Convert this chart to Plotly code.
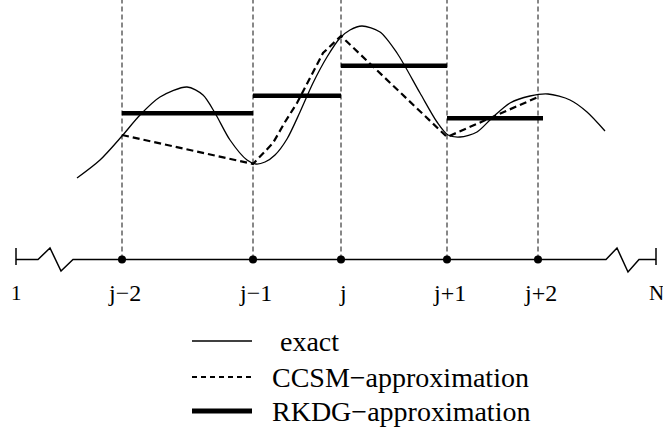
import plotly.graph_objects as go

# Grid nodes (x positions) and their labels
node_x = [1.22, 2.53, 3.41, 4.47, 5.38]
node_labels = ["j\u22122", "j\u22121", "j", "j+1", "j+2"]

# Exact solution, sampled along the domain
exact_x = [0.77, 1.00, 1.22, 1.40, 1.60, 1.87, 2.03, 2.15, 2.30, 2.47, 2.56,
           2.65, 2.75, 2.87, 3.00, 3.13, 3.27, 3.40, 3.50, 3.62, 3.80, 3.97,
           4.20, 4.37, 4.48, 4.60, 4.77, 4.92, 5.10, 5.30, 5.48, 5.70, 5.87, 6.05]
exact_u = [0.815, 0.995, 1.235, 1.445, 1.625, 1.725, 1.645, 1.465, 1.195, 0.995, 0.955,
           0.975, 1.045, 1.205, 1.475, 1.765, 2.025, 2.215, 2.295, 2.335, 2.275, 2.065,
           1.665, 1.375, 1.245, 1.225, 1.275, 1.415, 1.565, 1.635, 1.655, 1.595, 1.475, 1.285]

# CCSM point values (nodal) with the shape between j-1 and j
ccsm_x = [1.22, 2.53, 2.73, 2.85, 2.97, 3.10, 3.23, 3.41, 4.47, 5.38]
ccsm_u = [1.245, 0.955, 1.165, 1.375, 1.565, 1.815, 2.065, 2.235, 1.225, 1.625]

# RKDG cell averages: cell edges and constant values
rkdg_left = [1.22, 2.53, 3.41, 4.47]
rkdg_right = [2.53, 3.41, 4.47, 5.43]
rkdg_u = [1.462, 1.638, 1.938, 1.412]

# Domain axis with break marks; end points labelled 1 and N
axis_x = [0.16, 0.38, 0.50, 0.61, 0.73, 6.06, 6.17, 6.28, 6.39, 6.56]
axis_u = [0, 0, 0.115, -0.115, 0, 0, 0.115, -0.125, 0, 0]
end_x = [0.16, 6.56]
end_labels = ["1", "N"]

SERIF = "Liberation Serif"
fig = go.Figure()

# vertical dashed grid lines through the nodes
for x in node_x:
    fig.add_trace(go.Scatter(x=[x, x], y=[0, 2.595], mode="lines",
                             line=dict(color="#111", width=1, dash="5px,3px"),
                             hoverinfo="skip", showlegend=False))

# domain axis
fig.add_trace(go.Scatter(x=axis_x, y=axis_u, mode="lines",
                         line=dict(color="black", width=1.5), showlegend=False))
for x in end_x:
    fig.add_trace(go.Scatter(x=[x, x], y=[0.115, -0.055], mode="lines",
                             line=dict(color="black", width=1.5), showlegend=False))
fig.add_trace(go.Scatter(x=node_x, y=[0] * len(node_x), mode="markers",
                         marker=dict(color="black", size=8), showlegend=False))

# exact solution
fig.add_trace(go.Scatter(x=exact_x, y=exact_u, mode="lines",
                         line=dict(color="black", width=1.3, shape="spline", smoothing=0.8),
                         showlegend=False))
# CCSM approximation
fig.add_trace(go.Scatter(x=ccsm_x, y=ccsm_u, mode="lines",
                         line=dict(color="black", width=2.2, dash="7px,4px"),
                         showlegend=False))
# RKDG approximation
for x0, x1, u in zip(rkdg_left, rkdg_right, rkdg_u):
    fig.add_trace(go.Scatter(x=[x0, x1], y=[u, u], mode="lines",
                             line=dict(color="black", width=4.5), showlegend=False))

# node and end labels
for x, t in zip(node_x, node_labels):
    fig.add_annotation(x=x + 0.02, y=-0.335, text=t, showarrow=False,
                       font=dict(family=SERIF, size=24, color="black"),
                       xanchor="center", yanchor="middle")
for x, t in zip(end_x, end_labels):
    fig.add_annotation(x=x, y=-0.335, text=t, showarrow=False,
                       font=dict(family=SERIF, size=21, color="black"),
                       xanchor="center", yanchor="middle")

# legend
legend_names = ["exact", "CCSM\u2212approximation", "RKDG\u2212approximation"]
legend_u = [-0.815, -1.175, -1.515]
legend_text_x = [2.78, 2.70, 2.70]
legend_styles = [dict(width=1.3), dict(width=1.8, dash="5px,4px"), dict(width=5)]
for name, u, tx, st in zip(legend_names, legend_u, legend_text_x, legend_styles):
    fig.add_trace(go.Scatter(x=[1.92, 2.52], y=[u, u], mode="lines",
                             line=dict(color="black", **st), showlegend=False))
    fig.add_annotation(x=tx, y=u, text=name, showarrow=False,
                       font=dict(family=SERIF, size=28, color="black"),
                       xanchor="left", yanchor="middle")

fig.update_xaxes(range=[0, 6.63], visible=False, showgrid=False, zeroline=False)
fig.update_yaxes(range=[-1.775, 2.595], visible=False, showgrid=False, zeroline=False)
fig.update_layout(width=663, height=437, margin=dict(l=0, r=0, t=0, b=0),
                  plot_bgcolor="white", paper_bgcolor="white", showlegend=False)

fig.write_html("out.html")
